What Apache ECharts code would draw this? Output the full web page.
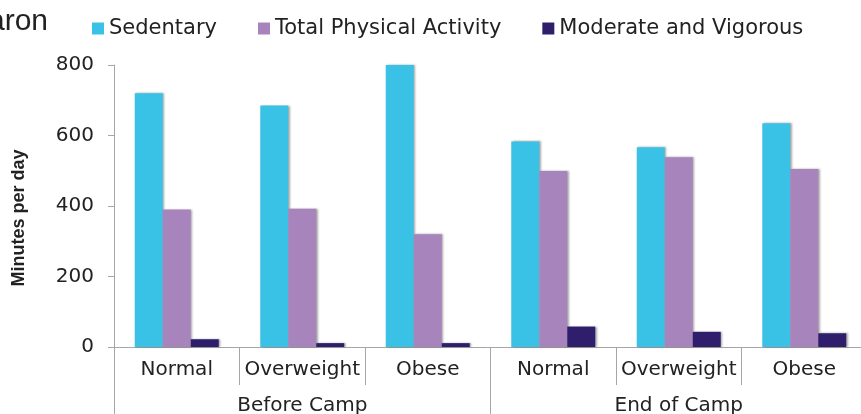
<!DOCTYPE html>
<html>
<head>
<meta charset="utf-8">
<script src="https://cdn.jsdelivr.net/npm/echarts@6/dist/echarts.min.js"></script>
<style>
html,body{margin:0;padding:0;background:#fff;}
#c{width:861px;height:414px;}
</style>
</head>
<body>
<div id="c"></div>
<script>
var categories = ["Normal", "Overweight", "Obese", "Normal", "Overweight", "Obese"];
var groups = ["Before Camp", "End of Camp"];
var sedentary = [720, 685, 800, 583, 567, 635];
var totalPA = [390, 392, 320, 499, 538, 505];
var modVig = [22, 11, 11, 58, 43, 39];
var yTicks = [0, 200, 400, 600, 800];

var FONT = "DejaVu Sans";
var chart = echarts.init(document.getElementById('c'));
var shadow = {shadowColor: 'rgba(0,0,0,0.35)', shadowBlur: 2, shadowOffsetX: 1.5, shadowOffsetY: 0};
chart.setOption({
  animation: false,
  title: {
    text: 'aron', left: -17, top: 2,
    textStyle: {fontFamily: 'Liberation Sans', fontSize: 30, fontWeight: 'normal', color: '#222'}
  },
  legend: {
    left: 87, top: 13, icon: 'rect', itemWidth: 12, itemHeight: 12, itemGap: 41,
    textStyle: {fontFamily: FONT, fontSize: 21, color: '#222'},
    data: ['Sedentary', 'Total Physical Activity', 'Moderate and Vigorous']
  },
  grid: {left: 114, top: 65, width: 753, height: 282, containLabel: false, outerBoundsMode: 'none'},
  xAxis: [{
    type: 'category', data: categories, position: 'bottom',
    axisLine: {show: true, lineStyle: {color: '#a6a6a6', width: 1}},
    axisTick: {show: true, interval: 0, length: 38, lineStyle: {color: '#a6a6a6'}},
    axisLabel: {interval: 0, margin: 13, fontFamily: FONT, fontSize: 20, color: '#222'}
  }, {
    type: 'category', data: groups, position: 'bottom',
    axisLine: {show: false},
    axisTick: {show: true, interval: 0, length: 70, lineStyle: {color: '#a6a6a6'}},
    axisLabel: {interval: 0, margin: 49, fontFamily: FONT, fontSize: 20, color: '#222'}
  }],
  yAxis: {
    type: 'value', min: 0, max: 800, interval: 200,
    name: 'Minutes per day', nameLocation: 'middle', nameGap: 86, nameRotate: 90,
    nameTextStyle: {fontFamily: 'Liberation Sans', fontWeight: 'bold', fontSize: 18, color: '#222', padding: [0, 24, 0, 0]},
    axisLine: {show: true, lineStyle: {color: '#a6a6a6'}},
    axisTick: {show: true, length: 6, lineStyle: {color: '#a6a6a6'}},
    splitLine: {show: false},
    axisLabel: {margin: 20, fontFamily: FONT, fontSize: 20, color: '#222',
      formatter: function (v) { return yTicks.indexOf(v) >= 0 ? String(v) : ''; }}
  },
  series: [
    {name: 'Sedentary', type: 'bar', data: sedentary, barWidth: 28, barGap: '0%', xAxisIndex: 0,
     itemStyle: Object.assign({color: '#3AC2E6'}, shadow)},
    {name: 'Total Physical Activity', type: 'bar', data: totalPA, barWidth: 28, barGap: '0%', xAxisIndex: 0,
     itemStyle: Object.assign({color: '#A784BC'}, shadow)},
    {name: 'Moderate and Vigorous', type: 'bar', data: modVig, barWidth: 28, barGap: '0%', xAxisIndex: 0,
     itemStyle: Object.assign({color: '#2E1E6C'}, shadow)}
  ]
});
</script>
</body>
</html>
